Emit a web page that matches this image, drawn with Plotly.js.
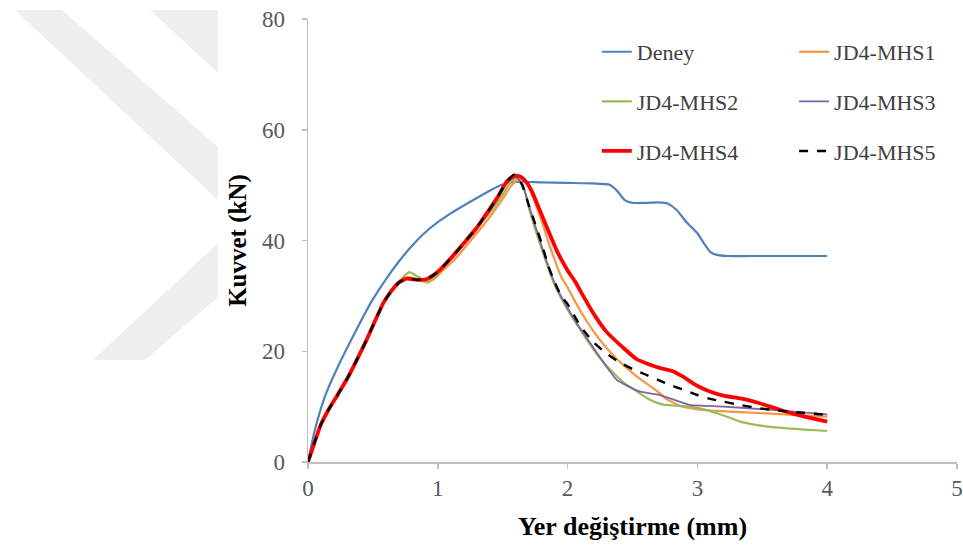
<!DOCTYPE html>
<html>
<head>
<meta charset="utf-8">
<script src="https://cdn.plot.ly/plotly-3.0.1.min.js"></script>
<style>
  html, body { margin: 0; padding: 0; background: #ffffff; }
  #chart { width: 963px; height: 549px; }
</style>
</head>
<body>
<div id="chart"></div>
<script>
// Force–displacement curves: test result and five numerical models
const seriesNames = ['Deney', 'JD4-MHS1', 'JD4-MHS2', 'JD4-MHS3', 'JD4-MHS4', 'JD4-MHS5'];

const deneyX = [0, 0.05, 0.13, 0.23, 0.36, 0.49, 0.6, 0.7, 0.8, 0.9, 1.0, 1.1, 1.25, 1.4, 1.5, 1.6, 1.8, 2.0, 2.2, 2.32, 2.38, 2.44, 2.5, 2.6, 2.7, 2.77, 2.84, 2.92, 3.0, 3.05, 3.1, 3.15, 3.23, 3.4, 3.7, 4.0];
const deneyY = [0, 5.5, 11.8, 17.2, 23.3, 29.0, 33.0, 36.2, 39.0, 41.4, 43.3, 44.9, 47.0, 49.0, 50.1, 50.6, 50.5, 50.4, 50.3, 50.1, 49.0, 47.3, 46.8, 46.8, 46.9, 46.7, 45.5, 43.2, 41.3, 39.5, 37.9, 37.4, 37.2, 37.2, 37.2, 37.2];

const mhs1X = [0, 0.05, 0.1, 0.157, 0.23, 0.31, 0.44, 0.58, 0.64, 0.7, 0.77, 0.84, 0.92, 0.98, 1.04, 1.12, 1.2, 1.3, 1.4, 1.5, 1.57, 1.63, 1.68, 1.73, 1.8, 1.87, 1.95, 2.0, 2.1, 2.2, 2.3, 2.38, 2.45, 2.53, 2.63, 2.7, 2.76, 2.87, 3.0, 3.1, 3.33, 3.6, 4.0];
const mhs1Y = [0, 3.5, 6.8, 9.4, 12.2, 15.4, 21.5, 28.7, 30.8, 32.4, 33.4, 33.0, 32.4, 33.2, 34.6, 36.3, 38.5, 41.3, 44.2, 47.5, 50.0, 51.2, 50.6, 48.0, 43.5, 38.5, 33.5, 31.5, 27.2, 23.6, 20.6, 18.6, 17.1, 15.5, 13.8, 12.6, 11.4, 10.1, 9.5, 9.3, 9.0, 8.7, 8.2];

const mhs2X = [0, 0.05, 0.1, 0.157, 0.23, 0.31, 0.44, 0.58, 0.64, 0.7, 0.78, 0.85, 0.92, 0.98, 1.04, 1.12, 1.2, 1.3, 1.4, 1.5, 1.56, 1.61, 1.66, 1.7, 1.8, 1.9, 2.0, 2.1, 2.23, 2.3, 2.38, 2.45, 2.53, 2.63, 2.73, 2.81, 2.94, 3.05, 3.15, 3.25, 3.33, 3.45, 3.58, 3.8, 4.0];
const mhs2Y = [0, 3.5, 6.8, 9.4, 12.2, 15.4, 21.5, 28.7, 30.8, 32.6, 34.3, 33.4, 32.6, 33.4, 35.0, 37.0, 39.5, 42.3, 45.0, 48.3, 50.5, 51.3, 49.8, 46.0, 38.5, 32.0, 27.5, 23.8, 19.3, 17.4, 15.5, 14.0, 12.8, 11.3, 10.4, 10.2, 10.0, 9.5, 8.8, 8.0, 7.3, 6.7, 6.3, 5.9, 5.6];

const mhs3X = [0, 0.05, 0.1, 0.157, 0.23, 0.31, 0.44, 0.58, 0.64, 0.7, 0.77, 0.84, 0.91, 0.97, 1.02, 1.1, 1.2, 1.3, 1.38, 1.46, 1.53, 1.6, 1.65, 1.7, 1.8, 1.9, 2.0, 2.1, 2.23, 2.3, 2.38, 2.5, 2.56, 2.69, 2.76, 2.85, 2.94, 3.2, 3.58, 4.0];
const mhs3Y = [0, 3.5, 6.8, 9.4, 12.2, 15.4, 21.5, 28.7, 30.8, 32.4, 33.2, 32.9, 33.0, 33.8, 34.8, 36.8, 39.5, 42.3, 45.0, 47.8, 50.4, 51.5, 50.2, 46.5, 39.0, 32.3, 27.8, 24.0, 19.6, 17.2, 14.8, 13.3, 12.7, 12.2, 11.7, 11.0, 10.3, 10.0, 9.4, 8.6];

const mhs4X = [0, 0.05, 0.1, 0.157, 0.23, 0.31, 0.44, 0.58, 0.64, 0.7, 0.76, 0.84, 0.91, 0.97, 1.02, 1.1, 1.2, 1.3, 1.38, 1.46, 1.53, 1.59, 1.64, 1.69, 1.73, 1.78, 1.84, 1.92, 2.0, 2.06, 2.12, 2.2, 2.3, 2.43, 2.53, 2.63, 2.72, 2.81, 2.89, 2.96, 3.02, 3.1, 3.2, 3.35, 3.48, 3.64, 3.84, 4.0];
const mhs4Y = [0, 3.5, 6.8, 9.4, 12.2, 15.4, 21.5, 28.7, 30.8, 32.4, 33.1, 32.9, 33.0, 33.8, 34.8, 36.8, 39.5, 42.3, 45.0, 47.8, 50.6, 51.7, 51.5, 50.3, 48.6, 45.8, 42.4, 38.0, 34.6, 32.5, 30.0, 26.8, 23.5, 20.6, 18.6, 17.6, 16.9, 16.4, 15.4, 14.3, 13.5, 12.7, 12.0, 11.4, 10.6, 9.4, 8.1, 7.3];

const mhs5X = [0, 0.05, 0.1, 0.157, 0.23, 0.31, 0.44, 0.58, 0.64, 0.7, 0.76, 0.84, 0.91, 0.97, 1.02, 1.1, 1.2, 1.3, 1.38, 1.46, 1.53, 1.59, 1.65, 1.7, 1.75, 1.8, 1.85, 1.9, 1.95, 2.0, 2.1, 2.2, 2.3, 2.4, 2.5, 2.6, 2.7, 2.8, 2.9, 3.0, 3.1, 3.2, 3.33, 3.45, 3.58, 3.8, 4.0];
const mhs5Y = [0, 3.5, 6.8, 9.4, 12.2, 15.4, 21.5, 28.7, 30.8, 32.4, 33.1, 32.9, 33.0, 33.8, 34.8, 36.8, 39.5, 42.3, 45.0, 47.8, 50.6, 51.9, 50.0, 46.5, 43.0, 39.5, 35.5, 32.5, 30.0, 28.5, 24.5, 21.6, 19.6, 18.0, 16.8, 15.8, 14.8, 13.8, 13.0, 12.1, 11.4, 10.9, 10.3, 9.8, 9.4, 8.9, 8.5];

const xTickVals = [0, 1, 2, 3, 4, 5];
const yTickVals = [0, 20, 40, 60, 80];

const serif = 'Liberation Serif';

function curve(name, x, y, color, width, dash, legendId) {
  return {
    type: 'scatter', mode: 'lines', name: name, x: x, y: y,
    line: { color: color, width: width, dash: dash, shape: 'spline', smoothing: 0.5 },
    legend: legendId, legendgroup: name, hoverinfo: 'x+y+name'
  };
}

const data = [
  curve(seriesNames[0], deneyX, deneyY, '#4f81bd', 2.2, 'solid', 'legend'),
  curve(seriesNames[1], mhs1X, mhs1Y, '#f79646', 2.2, 'solid', 'legend2'),
  curve(seriesNames[2], mhs2X, mhs2Y, '#9bbb59', 2.2, 'solid', 'legend'),
  curve(seriesNames[3], mhs3X, mhs3Y, '#8064a2', 1.8, 'solid', 'legend2'),
  curve(seriesNames[4], mhs4X, mhs4Y, '#ff0000', 3.8, 'solid', 'legend'),
  curve(seriesNames[5], mhs5X, mhs5Y, '#000000', 2.4, 'dash', 'legend2')
];

// paper coordinates for the background chevron stripes (plot spans 649 x 443 px)
function P(px, py) { return ((px - 308) / 649).toFixed(4) + ',' + ((462 - py) / 443).toFixed(4); }
function poly(pts) { return 'M' + pts.map(p => P(p[0], p[1])).join(' L') + ' Z'; }
const stripeStyle = { type: 'path', xref: 'paper', yref: 'paper', layer: 'below', fillcolor: '#efefef', line: { width: 0 } };

const legendCommon = {
  orientation: 'v', xanchor: 'left', yanchor: 'top', bgcolor: 'rgba(0,0,0,0)',
  font: { family: serif, size: 22, color: '#404040' }, tracegroupgap: 18, itemwidth: 30
};

const layout = {
  width: 963, height: 549,
  margin: { l: 308, r: 6, t: 19, b: 87 },
  paper_bgcolor: '#ffffff', plot_bgcolor: 'rgba(0,0,0,0)',
  showlegend: true,
  xaxis: {
    range: [0, 5], tickvals: xTickVals, showgrid: false, zeroline: false,
    showline: true, linecolor: '#bfbfbf', linewidth: 1.5,
    ticks: 'outside', ticklen: 5, tickcolor: '#bfbfbf', tickwidth: 1.5,
    tickfont: { family: serif, size: 23, color: '#595959' },
    title: { text: '<b>Yer değiştirme (mm)</b>', font: { family: serif, size: 26, color: '#000000' }, standoff: 16 },
    automargin: false
  },
  yaxis: {
    range: [0, 80], tickvals: yTickVals, showgrid: false, zeroline: false,
    showline: true, linecolor: '#bfbfbf', linewidth: 1.5,
    ticks: 'outside', ticklen: 5, tickcolor: '#bfbfbf', tickwidth: 1.5, ticklabelstandoff: 12,
    tickfont: { family: serif, size: 23, color: '#595959' },
    title: { text: '<b>Kuvvet (kN)</b>', font: { family: serif, size: 25, color: '#000000' }, standoff: 8 },
    automargin: false
  },
  legend: Object.assign({ x: 0.445, y: 0.973 }, legendCommon),
  legend2: Object.assign({ x: 0.749, y: 0.973 }, legendCommon),
  shapes: [
    Object.assign({ path: poly([[15, 10], [62, 10], [218, 147], [218, 200]]) }, stripeStyle),
    Object.assign({ path: poly([[150, 10], [218, 10], [218, 73]]) }, stripeStyle),
    Object.assign({ path: poly([[218, 243], [218, 297], [145, 360], [93, 360]]) }, stripeStyle)
  ]
};

Plotly.newPlot('chart', data, layout, { displayModeBar: false, staticPlot: true });
</script>
</body>
</html>
